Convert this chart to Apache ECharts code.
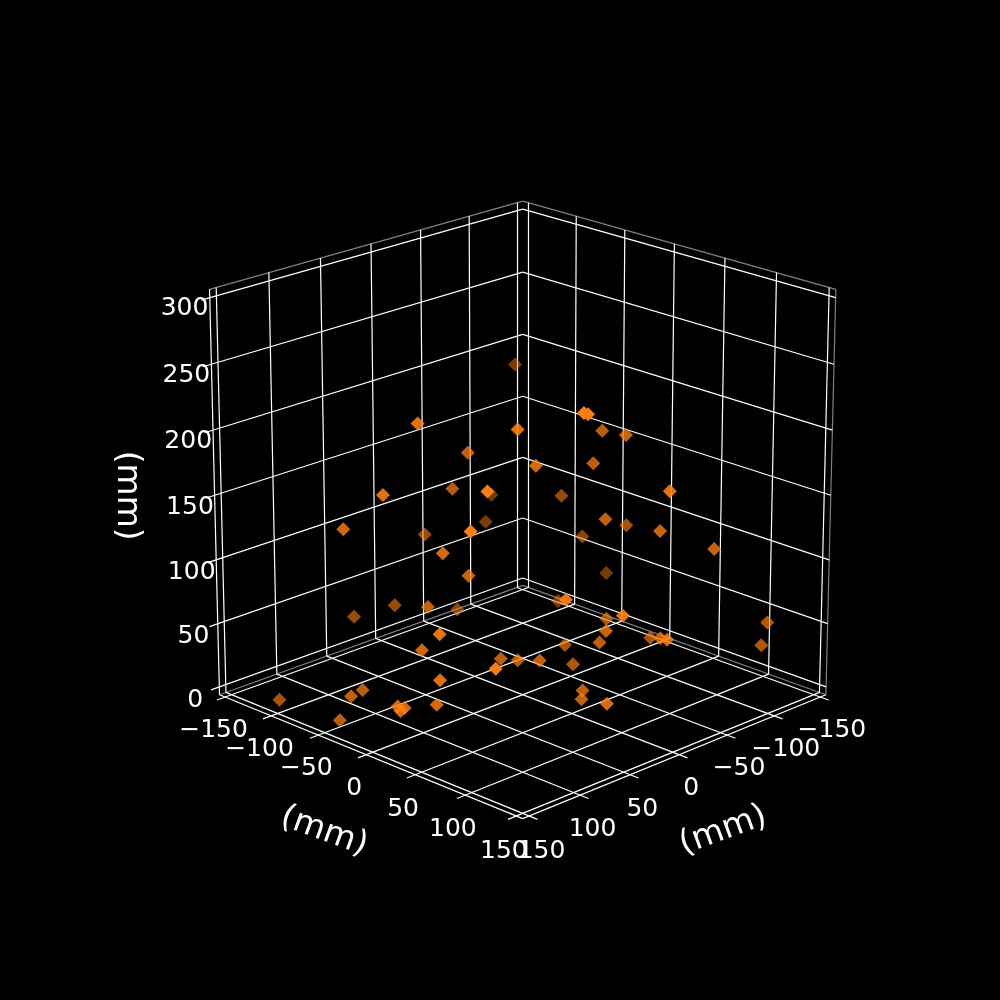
<!DOCTYPE html><html><head><meta charset="utf-8"><script src="https://cdn.jsdelivr.net/npm/echarts@6/dist/echarts.min.js"></script>
<style>html,body{margin:0;background:#000}#c{width:1000px;height:1000px}</style></head><body><div id="c"></div><script>
// Values (mm)
var xs=[-103,112,64,46,43,141,45,125,-67,-56,142,-59,21,147,104,77,66,64,-33,-26,-23,3,-12,-66,-26,-78,-50,-113,72,49,92,0,148,123,148,146,132,148,144,132,147,147,148,148,57,49,45,-72,87,-21,50,18,12,-6,-51,-19,5,-101,-95,4,29,31,55];
var ys=[-111,9,59,-9,56,4,-26,91,-100,-16,-36,-98,-80,97,25,23,125,127,47,77,48,147,71,40,111,-16,141,-25,-102,-83,-3,-68,67,23,-100,-26,-29,-36,63,47,23,30,27,122,35,44,62,-35,129,64,148,101,89,37,79,119,148,147,147,55,89,90,138];
var zs=[199,235,231,192,198,188,160,209,107,131,152,88,104,187,140,115,260,259,203,209,181,192,147,120,145,93,133,52,47,55,88,42,103,71,4,28,28,7,66,39,35,36,33,93,49,48,52,38,129,66,112,78,64,42,47,67,81,64,48,35,32,26,44];
var xyTicks=[-150,-100,-50,0,50,100,150];
var zTicks=[0,50,100,150,200,250,300];
var axisTitle='(mm)';

// Camera and box of the 3D view
var E=20*Math.PI/180,s=Math.sin(E),c=Math.cos(E),D=12,a=.55,zsc=.99,S=4563,cx=522.7,cy=495.3,dl=6.25;
function proj(x,y,z){var px=x/150*a,py=y/150*a,pz=(z-150)/150*a*zsc;var q=(px+py)/Math.SQRT2,r=(py-px)/Math.SQRT2,f=c*q+s*pz,u=-s*q+c*pz;return [cx+S*r/(D-f),cy-S*u/(D-f),f];}
var segG=[],segP=[],segW=[];
function L(arr,A,B){arr.push({coords:[proj.apply(null,A).slice(0,2),proj.apply(null,B).slice(0,2)]});}
var h=150+dl,zl=-dl,zh=300+dl,t=8;
xyTicks.forEach(function(v){L(segG,[v,-h,zl],[v,-h,zh]);L(segG,[-h,v,zl],[-h,v,zh]);L(segG,[v,-h,zl],[v,h+t,zl]);L(segG,[-h,v,zl],[h+t,v,zl]);});
zTicks.forEach(function(v){L(segG,[h+t,-h,v],[-h,-h,v]);L(segG,[-h,-h,v],[-h,h,v]);});
L(segP,[h,-h,zl],[-h,-h,zl]);L(segP,[-h,-h,zl],[-h,h,zl]);L(segP,[h,-h,zh],[-h,-h,zh]);L(segP,[-h,-h,zh],[-h,h,zh]);L(segP,[-h,h,zl],[-h,h,zh]);
L(segW,[h,-h,zl],[h,h,zl]);L(segW,[h,h,zl],[-h,h,zl]);L(segW,[h,-h,zl],[h,-h,zh]);
var pts=xs.map(function(x,i){return proj(x,ys[i],zs[i]);}).sort(function(A,B){return A[2]-B[2]});
var fs=pts.map(function(p){return p[2]}),f1=Math.min.apply(null,fs),f2=Math.max.apply(null,fs);
var chart=echarts.init(document.getElementById('c'));
function lab(pos,txt,size,rot){return {value:pos,label:{show:true,formatter:txt,position:'inside',fontSize:size,rotate:rot,color:'#fff',fontFamily:'DejaVu Sans'}};}
var M='\u2212',labels=[];
xyTicks.forEach(function(v){var n=(v<0?M+(-v):''+v);labels.push(lab(proj(h+12,v,-29),n,25,0));labels.push(lab(proj(v,h+12,-29),n,25,0));});
zTicks.forEach(function(v){var p=proj(h+30,-h,v);labels.push(lab([p[0]+7,p[1]+2],''+v,25,0));});
labels.push(lab(proj(h+25,-18,-64),axisTitle,33,-20));labels.push(lab(proj(-20,h+25,-64),axisTitle,33,20));labels.push(lab(proj(h+82,-h,171),axisTitle,33,-90));
function ls(d,col,w){return {type:'lines',coordinateSystem:'cartesian2d',data:d,silent:true,animation:false,lineStyle:{color:col,width:w,opacity:1},symbol:'none'};}
chart.setOption({animation:false,backgroundColor:'#000',grid:{left:0,right:0,top:0,bottom:0},
xAxis:{type:'value',min:0,max:1000,show:false},yAxis:{type:'value',min:0,max:1000,inverse:true,show:false},
series:[ls(segP,'#808080',1.2),ls(segG,'#ffffff',1.2),ls(segW,'#ffffff',1.2),
{type:'scatter',symbol:'diamond',symbolSize:14,data:pts.map(function(p){return {value:[p[0],p[1]],itemStyle:{color:'#ff7f0e',opacity:.47+.53*(p[2]-f1)/(f2-f1)}};}),silent:true,z:5},
{type:'scatter',symbolSize:1,itemStyle:{color:'rgba(0,0,0,0)',opacity:1},data:labels,silent:true,z:6}]});
</script></body></html>
